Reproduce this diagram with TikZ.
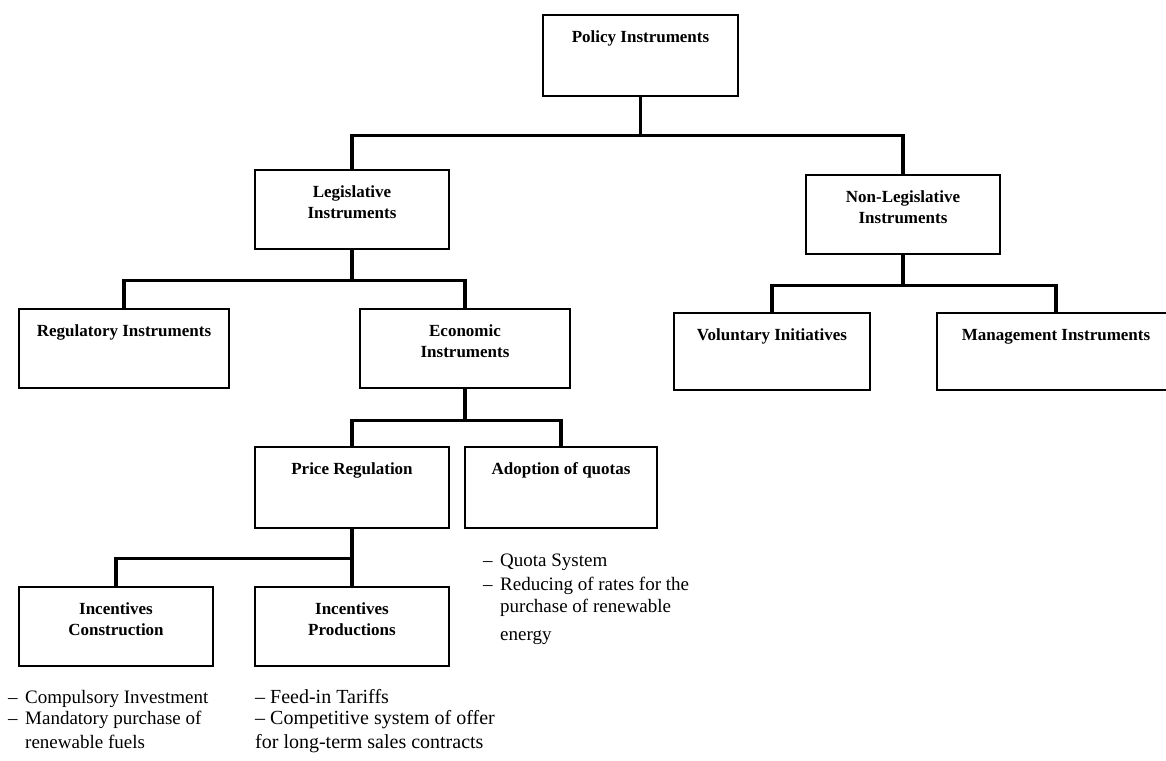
\documentclass[tikz,border=0pt]{standalone}
\usepackage{fontspec}
\setmainfont{Liberation Serif}
\usepackage{tikz}

\newcommand{\twoline}[2]{\begin{tabular}[t]{@{}c@{}}#1\\#2\end{tabular}}
\newcommand{\dsh}{\makebox[17pt][l]{–}}

\begin{document}
\begin{tikzpicture}[x=1pt, y=-1pt,
		box/.style={draw, line width=2.2pt, inner sep=0pt, anchor=north, minimum width=#1, text height=27pt, text depth=52pt, font=\fontsize{17}{21}\selectfont\bfseries},
		box/.default=194pt,
		conn/.style={line width=3.4pt},
		note/.style={anchor=north west, align=left, inner sep=0pt, font=\fontsize{19}{22}\selectfont}]
		\useasboundingbox (0,0) rectangle (1166,760);

		\node[box=195pt, text depth=54pt] (pol) at (640.5,14) {Policy Instruments};

		\node[box] (leg) at (352,169) {\twoline{Legislative}{Instruments}};
		\node[box] (nonleg) at (903,174) {\twoline{Non-Legislative}{Instruments}};

		\node[box=210pt] (reg) at (124,308) {Regulatory Instruments};
		\node[box=210pt] (eco) at (465,308) {\twoline{Economic}{Instruments}};
		\node[box=196pt, text depth=50pt] (vol) at (772,312) {Voluntary Initiatives};
		\node[box=238pt, text depth=50pt] (man) at (1056,312) {Management Instruments};

		\node[box, text depth=54pt] (price) at (352,446) {Price Regulation};
		\node[box=192pt, text depth=54pt] (quota) at (561,446) {Adoption of quotas};

		\node[box] (incc) at (116,586) {\twoline{Incentives}{Construction}};
		\node[box] (incp) at (352,586) {\twoline{Incentives}{Productions}};

		\draw[conn] (pol.south) -- ++(0,38) -| (leg.north);
		\draw[conn] (pol.south) -- ++(0,38) -| (nonleg.north);

		\draw[conn] (leg.south) -- ++(0,30) -| (reg.north);
		\draw[conn] (leg.south) -- ++(0,30) -| (eco.north);
		\draw[conn] (nonleg.south) -- ++(0,30) -| (vol.north);
		\draw[conn] (nonleg.south) -- ++(0,30) -| (man.north);

		\draw[conn] (eco.south) -- ++(0,31) -| (price.north);
		\draw[conn] (eco.south) -- ++(0,31) -| (quota.north);

		\draw[conn] (price.south) -- (incp.north);
		\draw[conn] (price.south) -- ++(0,29) -| (incc.north);

		\node[note] (qnote) at (483,554) {\dsh Quota System\\[2pt]\dsh Reducing of rates for the\\\hspace*{17pt}purchase of renewable\\[6pt]\hspace*{17pt}energy};
		\node[note] (cnote) at (8,690) {\dsh Compulsory Investment\\[-1pt]\dsh Mandatory purchase of\\[2pt]\hspace*{17pt}renewable fuels};
		\node[note, font=\fontsize{20}{22}\selectfont] (pnote) at (255,689) {\makebox[15pt][l]{–}Feed-in Tariffs\\[-1pt]\makebox[15pt][l]{–}Competitive system of offer\\[2pt]for long-term sales contracts};
	\end{tikzpicture}
\end{document}
